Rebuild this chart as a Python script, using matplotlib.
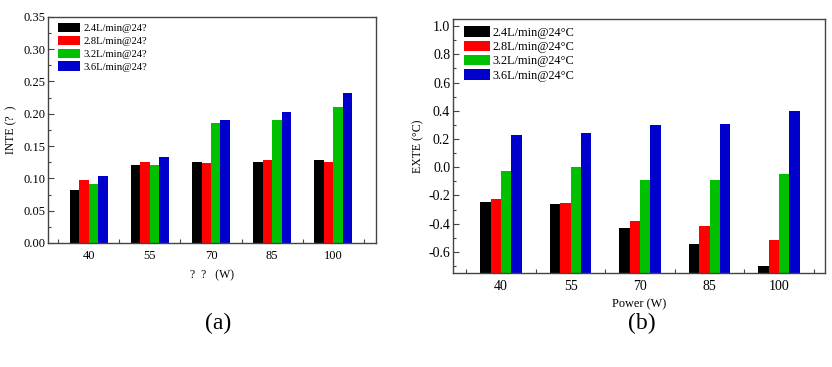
import numpy as np
import matplotlib
matplotlib.use("Agg")
import matplotlib.pyplot as plt
from matplotlib.ticker import MultipleLocator, FixedLocator

plt.rcParams['font.family'] = ['Liberation Serif', 'DejaVu Serif']

# data
powers = ['40', '55', '70', '85', '100']
labels_a = ['2.4L/min@24?', '2.8L/min@24?', '3.2L/min@24?', '3.6L/min@24?']
labels_b = ['2.4L/min@24\u00b0C', '2.8L/min@24\u00b0C', '3.2L/min@24\u00b0C', '3.6L/min@24\u00b0C']
colors = ['#000000', '#ff0000', '#00c000', '#0000cc']

inte_24 = [0.082, 0.121, 0.125, 0.125, 0.128]
inte_28 = [0.098, 0.125, 0.124, 0.128, 0.125]
inte_32 = [0.091, 0.120, 0.186, 0.191, 0.211]
inte_36 = [0.103, 0.133, 0.191, 0.202, 0.232]

exte_24 = [-0.245, -0.262, -0.432, -0.547, -0.703]
exte_28 = [-0.227, -0.255, -0.380, -0.415, -0.517]
exte_32 = [-0.027, 0.000, -0.090, -0.092, -0.047]
exte_36 = [0.225, 0.245, 0.300, 0.305, 0.398]

inte = [inte_24, inte_28, inte_32, inte_36]
exte = [exte_24, exte_28, exte_32, exte_36]

fig = plt.figure(figsize=(8.32, 3.67), dpi=100)
axa = fig.add_axes([0.0577, 0.338, 0.394, 0.616])
axb = fig.add_axes([0.5445, 0.256, 0.447, 0.692])

x = np.arange(len(powers))


def style(ax, fs):
    for s in ax.spines.values():
        s.set_color('#444444')
        s.set_linewidth(1.0)
    ax.tick_params(axis='y', which='major', direction='in', length=4,
                   width=0.8, color='#444444', labelsize=fs, right=False, pad=2)
    ax.tick_params(axis='y', which='minor', direction='in', length=2.5,
                   width=0.8, color='#444444', right=False)
    ax.tick_params(axis='x', which='major', length=0, labelsize=fs, pad=5)
    ax.tick_params(axis='x', which='minor', direction='in', length=3,
                   width=0.8, color='#444444', top=False)
    ax.xaxis.set_minor_locator(FixedLocator(np.arange(-0.5, 5, 1.0)))
    ax.set_xticks(x)
    ax.set_xticklabels(powers)


# (a) INTE
w = 0.155
for i in range(4):
    axa.bar(x + (i - 1.5) * w, inte[i], w, color=colors[i], label=labels_a[i])
axa.set_xlim(-0.67, 4.7)
axa.set_ylim(0, 0.35)
axa.yaxis.set_major_locator(MultipleLocator(0.05))
axa.yaxis.set_minor_locator(MultipleLocator(0.025))
axa.yaxis.set_major_formatter(plt.FormatStrFormatter('%.2f'))
style(axa, 9)
axa.set_ylabel('INTE (?  )', fontsize=8.5, labelpad=4)
axa.set_xlabel('?  ?   (W)', fontsize=8.5, labelpad=5)
axa.legend(loc='upper left', bbox_to_anchor=(0.021, 0.987), fontsize=7.6,
           frameon=False, handlelength=2.1, handleheight=0.95,
           handletextpad=0.3, labelspacing=0.25, borderaxespad=0,
           borderpad=0.3)

# (b) EXTE
w = 0.15
base = -0.75
for i in range(4):
    vals = np.array(exte[i])
    axb.bar(x + (i - 1.5) * w, vals - base, w, bottom=base, color=colors[i],
            label=labels_b[i])
axb.set_xlim(-0.69, 4.66)
axb.set_ylim(-0.75, 1.05)
axb.yaxis.set_major_locator(FixedLocator(np.arange(-0.6, 1.01, 0.2)))
axb.yaxis.set_minor_locator(FixedLocator(np.arange(-0.7, 1.01, 0.1)))
axb.yaxis.set_major_formatter(plt.FormatStrFormatter('%.1f'))
style(axb, 10)
axb.set_ylabel('EXTE (\u00b0C)', fontsize=8.5, labelpad=3)
axb.set_xlabel('Power (W)', fontsize=8.8, labelpad=4)
axb.legend(loc='upper left', bbox_to_anchor=(0.02, 0.986), fontsize=8.8,
           frameon=False, handlelength=2.1, handleheight=0.95,
           handletextpad=0.25, labelspacing=0.15, borderaxespad=0,
           borderpad=0.3)

fig.text(0.262, 0.12, '(a)', fontsize=17, ha='center', va='center')
fig.text(0.771, 0.12, '(b)', fontsize=17, ha='center', va='center')

fig.savefig('out.png', dpi=100)
